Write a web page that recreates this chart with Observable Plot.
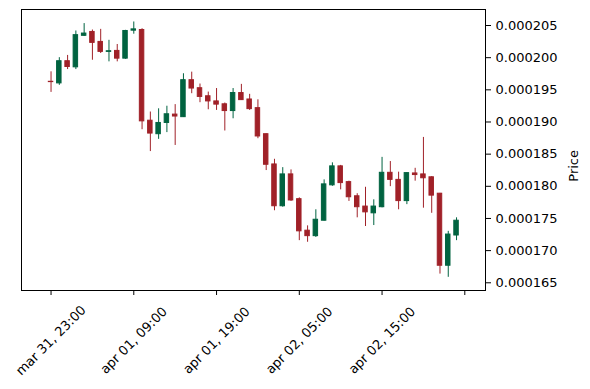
<!DOCTYPE html>
<html><head><meta charset="utf-8">
<script src="https://cdn.jsdelivr.net/npm/d3@7"></script>
<script src="https://cdn.jsdelivr.net/npm/@observablehq/plot@0.6"></script>
<style>html,body{margin:0;padding:0;background:#fff}</style>
</head><body><div id="chart"></div>
<script>
const openP = [196.25e-6,196.0e-6,199.45e-6,198.5e-6,203.4e-6,204.0e-6,202.45e-6,200.9e-6,201.05e-6,199.85e-6,
  204.2e-6,204.3e-6,190.2e-6,188.1e-6,189.85e-6,191.15e-6,190.75e-6,196.5e-6,195.25e-6,194.0e-6,
  193.2e-6,192.75e-6,191.7e-6,194.5e-6,193.5e-6,192.15e-6,188.1e-6,183.4e-6,176.9e-6,181.85e-6,
  178.0e-6,173.1e-6,172.25e-6,174.65e-6,180.15e-6,183.1e-6,180.65e-6,178.45e-6,176.85e-6,175.8e-6,
  176.75e-6,182.1e-6,181.0e-6,177.7e-6,182.0e-6,181.85e-6,181.4e-6,178.85e-6,167.65e-6,172.35e-6];
const highP = [197.8e-6,200.0e-6,200.35e-6,204.15e-6,205.3e-6,204.3e-6,204.4e-6,202.7e-6,202.05e-6,204.25e-6,
  205.55e-6,204.5e-6,191.55e-6,192.05e-6,192.45e-6,192.7e-6,197.5e-6,197.75e-6,195.9e-6,194.65e-6,
  195.2e-6,192.95e-6,195.2e-6,195.85e-6,194.3e-6,193.45e-6,188.15e-6,184.2e-6,182.9e-6,182.55e-6,
  178.2e-6,173.85e-6,176.35e-6,181.0e-6,183.65e-6,183.25e-6,180.8e-6,178.85e-6,179.85e-6,177.9e-6,
  184.5e-6,183.85e-6,182.2e-6,182.1e-6,182.8e-6,187.6e-6,181.5e-6,178.9e-6,173.0e-6,175.1e-6];
const lowP = [194.6e-6,195.7e-6,198.15e-6,198.15e-6,203.3e-6,199.6e-6,200.65e-6,199.35e-6,199.35e-6,199.75e-6,
  203.65e-6,188.8e-6,185.4e-6,187.3e-6,188.35e-6,186.35e-6,190.7e-6,194.4e-6,193.0e-6,191.9e-6,
  191.8e-6,188.6e-6,190.5e-6,193.35e-6,191.8e-6,187.4e-6,182.45e-6,176.2e-6,176.75e-6,177.65e-6,
  171.55e-6,171.3e-6,172.05e-6,174.6e-6,180.0e-6,179.45e-6,177.65e-6,175.1e-6,173.75e-6,173.9e-6,
  176.65e-6,179.95e-6,176.35e-6,177.15e-6,180.8e-6,176.6e-6,175.8e-6,166.35e-6,165.85e-6,171.55e-6];
const closeP = [196.2e-6,199.45e-6,198.55e-6,203.5e-6,203.75e-6,202.3e-6,200.9e-6,201.0e-6,199.85e-6,204.15e-6,
  204.4e-6,190.1e-6,188.2e-6,189.85e-6,191.2e-6,190.85e-6,196.5e-6,195.2e-6,193.9e-6,193.2e-6,
  192.7e-6,191.7e-6,194.5e-6,193.4e-6,192.0e-6,187.75e-6,183.35e-6,176.9e-6,181.85e-6,177.8e-6,
  173.0e-6,172.25e-6,174.8e-6,180.3e-6,183.1e-6,180.5e-6,178.3e-6,176.75e-6,175.95e-6,176.85e-6,
  182.1e-6,181.0e-6,177.7e-6,182.05e-6,181.75e-6,181.25e-6,178.55e-6,167.65e-6,172.5e-6,174.65e-6];

const xTickPositions = [0, 10, 20, 30, 40, 50];
const xTickLabels = ["mar 31, 23:00", "apr 01, 09:00", "apr 01, 19:00", "apr 02, 05:00", "apr 02, 15:00", ""];
const yTicks = [0.000165, 0.000170, 0.000175, 0.000180, 0.000185, 0.000190, 0.000195, 0.000200, 0.000205];
const yLabel = "Price";

const upColor = "#006340", downColor = "#A02128";
const candles = openP.map((o, i) => ({i, open: o, high: highP[i], low: lowP[i], close: closeP[i]}));
const col = d => d.close >= d.open ? upColor : downColor;

const chart = Plot.plot({
  width: 590, height: 389,
  marginLeft: 21, marginRight: 105, marginTop: 9, marginBottom: 99,
  style: {fontFamily: "DejaVu Sans", fontSize: "13px", background: "#fff", color: "#000"},
  x: {type: "linear", domain: [-3.57, 52.5]},
  y: {domain: [0.0001638, 0.00020749]},
  color: {type: "identity"},
  marks: [
    Plot.ruleX(candles, {x: "i", y1: "low", y2: "high", stroke: col, strokeWidth: 1}),
    Plot.rect(candles, {x1: d => d.i - 0.27, x2: d => d.i + 0.27, y1: "open", y2: "close", fill: col, stroke: col, strokeWidth: 1}),
    Plot.frame({stroke: "#000", strokeWidth: 1}),
    Plot.axisY({anchor: "right", ticks: yTicks, tickFormat: d3.format(".6f"), tickSize: 5, tickPadding: 5, label: null}),
    Plot.axisX({ticks: xTickPositions, tickFormat: d => xTickLabels[xTickPositions.indexOf(d)], tickSize: 5,
      tickRotate: -45, textAnchor: "middle", lineAnchor: "middle", tickPadding: 45, label: null}),
    Plot.text([yLabel], {frameAnchor: "right", dx: 88, rotate: -90, fontSize: 13})
  ]
});
document.getElementById("chart").appendChild(chart);
</script>
</body></html>
